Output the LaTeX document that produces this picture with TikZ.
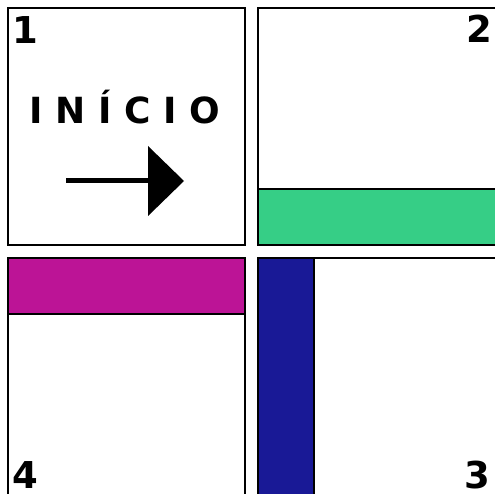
\documentclass[tikz,border=0pt]{standalone}
\usepackage{fontspec}
\setmainfont{DejaVu Sans}
\usepackage{tikz}
\usetikzlibrary{positioning, calc}
\definecolor{bandgreen}{HTML}{36CE86}
\definecolor{bandmagenta}{HTML}{BC1496}
\definecolor{bandblue}{HTML}{191996}

\begin{document}
\begin{tikzpicture}[
    x=1pt, y=-1pt,
    every node/.style={font=\bfseries\fontsize{37}{37}\selectfont, inner sep=0pt},
    tile/.style={draw, line width=2pt, fill=white},
    band/.style={draw, line width=2pt},
    num/.style={anchor=base},
]
    \useasboundingbox (0,0) rectangle (495,494);
    \clip (0,0) rectangle (495,494);

    % The four tiles.
    \draw[tile] (8,8) rectangle (245,245);
    \draw[tile] (258,8) rectangle (505,245);
    \draw[tile] (258,258) rectangle (505,505);
    \draw[tile] (8,258) rectangle (245,505);

    % Coloured bands on tiles 2, 4 and 3.
    \draw[band, fill=bandgreen] (258,189) rectangle (505,245);
    \draw[band, fill=bandmagenta] (8,258) rectangle (245,314);
    \draw[band, fill=bandblue] (258,258) rectangle (314,505);

    % Tile numbers.
    \node[num, anchor=base west] (n1) at (12,44) {1};
    \node[num, anchor=base east] (n2) at (492,43) {2};
    \node[num, anchor=base east] (n3) at (490,488) {3};
    \node[num, anchor=base west] (n4) at (12,488) {4};

    % Start label and arrow in tile 1.
    \node[anchor=base, font=\bfseries\fontsize{36}{36}\selectfont] (inicio) at (125,124) {I N Í C I O};
    \coordinate (tail) at (66,181);
    \coordinate (tip) at (184,181);
    \draw[line width=5pt] (tail) -- ($(tip)+(-34,0)$);
    \fill ($(tip)+(-36,-35)$) -- (tip) -- ($(tip)+(-36,35)$) -- cycle;
\end{tikzpicture}
\end{document}
